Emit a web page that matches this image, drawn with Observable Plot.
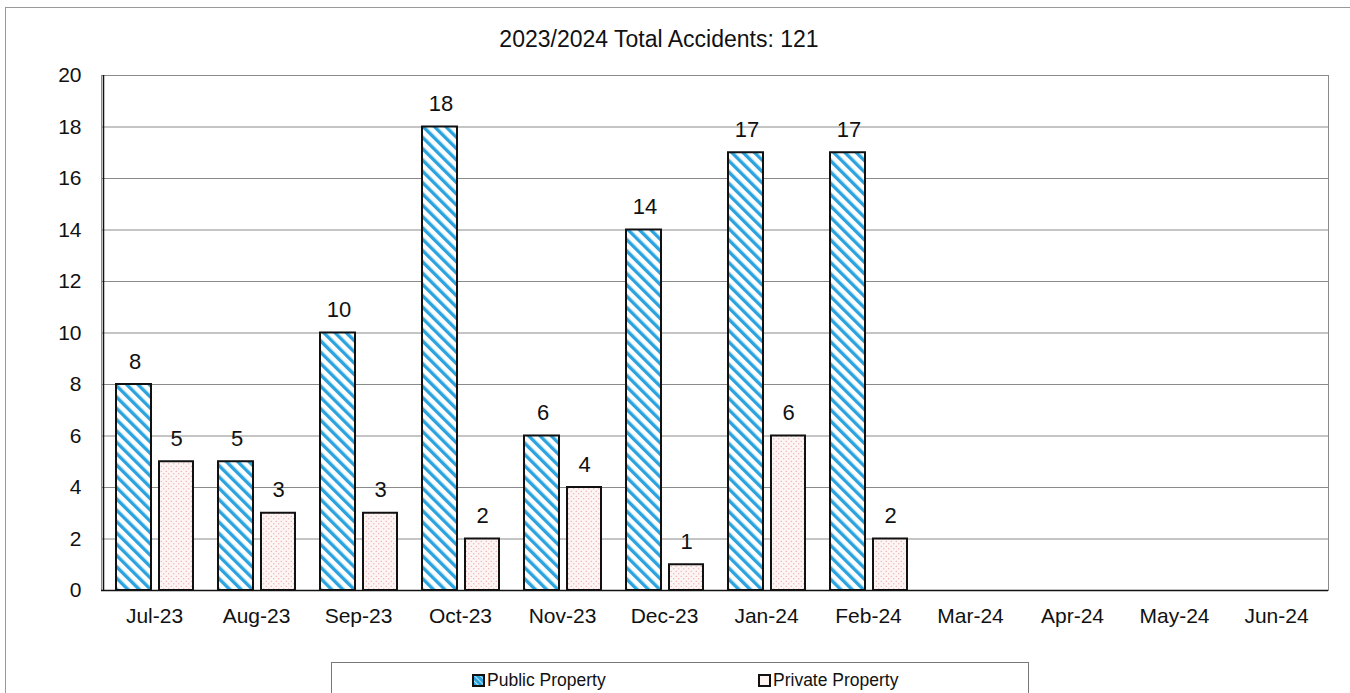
<!DOCTYPE html>
<html>
<head>
<meta charset="utf-8">
<script src="https://cdn.jsdelivr.net/npm/d3@7"></script>
<script src="https://cdn.jsdelivr.net/npm/@observablehq/plot@0.6"></script>
<style>
  html, body { margin: 0; padding: 0; background: #fff; }
  #wrap { position: relative; width: 1350px; height: 693px; overflow: hidden; font-family: "Liberation Sans", Arial, sans-serif; }
  #frame { position: absolute; left: 5px; top: 7px; width: 1360px; height: 700px; border: 1px solid #999; box-sizing: border-box; }
  #title { position: absolute; left: 0; width: 1318px; top: 26px; text-align: center; font-size: 23px; line-height: 26px; color: #111; }
  #legend { position: absolute; left: 331px; top: 662px; width: 698px; height: 60px; border: 1px solid #777; box-sizing: border-box; font-size: 17.5px; color: #111; }
  .item { position: absolute; top: 5px; display: flex; align-items: center; height: 24px; }
  #chart { position: absolute; left: 0; top: 0; }
</style>
</head>
<body>
<div id="wrap">
  <div id="frame"></div>
  <div id="title">2023/2024 Total Accidents: 121</div>
  <div id="chart"></div>
  <div id="legend">
    <div class="item" style="left:140px"><svg width="13" height="13" style="margin-right:2px"><rect x="1" y="1" width="11" height="11" fill="url(#hatchL)" stroke="#111" stroke-width="2"/></svg><span>Public Property</span></div>
    <div class="item" style="left:426px"><svg width="13" height="13" style="margin-right:2px"><rect x="1" y="1" width="11" height="11" fill="#fdf3f3" stroke="#111" stroke-width="2"/></svg><span>Private Property</span></div>
  </div>
</div>
<script>
const months = ["Jul-23","Aug-23","Sep-23","Oct-23","Nov-23","Dec-23","Jan-24","Feb-24","Mar-24","Apr-24","May-24","Jun-24"];
const publicVals = [8, 5, 10, 18, 6, 14, 17, 17, null, null, null, null];
const privateVals = [5, 3, 3, 2, 4, 1, 6, 2, null, null, null, null];
const yTicks = [0, 2, 4, 6, 8, 10, 12, 14, 16, 18, 20];

const pub = months.map((m, i) => ({month: m, value: publicVals[i]})).filter(d => d.value != null);
const priv = months.map((m, i) => ({month: m, value: privateVals[i]})).filter(d => d.value != null);

const chart = Plot.plot({
  width: 1350,
  height: 693,
  marginLeft: 101,
  marginRight: 22,
  marginTop: 75,
  marginBottom: 103,
  style: {fontFamily: "'Liberation Sans', Arial, sans-serif", fontSize: "21px", color: "#111", background: "transparent"},
  x: {type: "band", domain: months, padding: 0, label: null, tickSize: 0, tickPadding: 18},
  y: {domain: [0, 20], ticks: yTicks, label: null, tickSize: 0, tickPadding: 20},
  marks: [
    Plot.ruleY(yTicks, {stroke: "#8a8a8a", strokeWidth: 1}),
    Plot.frame({stroke: "#8a8a8a"}),
    Plot.barY(pub, {x: "month", y: "value", fill: "url(#hatch)", stroke: "#111", strokeWidth: 2, insetLeft: 13, insetRight: 54}),
    Plot.barY(priv, {x: "month", y: "value", fill: "url(#dots)", stroke: "#111", strokeWidth: 2, insetLeft: 56, insetRight: 12}),
    Plot.text(pub, {x: "month", y: "value", text: d => String(d.value), dx: -19.5, dy: -23, fontSize: 22, fill: "#111"}),
    Plot.text(priv, {x: "month", y: "value", text: d => String(d.value), dx: 22, dy: -23, fontSize: 22, fill: "#111"}),
    Plot.ruleX([months[0]], {stroke: "#111", strokeWidth: 1.5, dx: -51}),
    Plot.ruleY([0], {stroke: "#111", strokeWidth: 1.5})
  ]
});

const ns = "http://www.w3.org/2000/svg";
const defs = document.createElementNS(ns, "defs");
defs.innerHTML = `
  <pattern id="hatch" patternUnits="userSpaceOnUse" width="8" height="8" patternTransform="rotate(-45)">
    <rect width="8" height="8" fill="#fff"/>
    <rect width="3.4" height="8" fill="#2aa3de"/>
  </pattern>
  <pattern id="dots" patternUnits="userSpaceOnUse" width="5" height="5">
    <rect width="5" height="5" fill="#fdf4f4"/>
    <circle cx="1.25" cy="1.25" r="0.6" fill="#e58a8a"/>
    <circle cx="3.75" cy="3.75" r="0.6" fill="#e58a8a"/>
  </pattern>`;
chart.insertBefore(defs, chart.firstChild);
document.getElementById("chart").appendChild(chart);

const legSvg = document.querySelector("#legend svg");
const d2 = document.createElementNS(ns, "defs");
d2.innerHTML = `<pattern id="hatchL" patternUnits="userSpaceOnUse" width="4" height="4" patternTransform="rotate(-45)"><rect width="4" height="4" fill="#2aa3de"/><rect width="1" height="4" fill="#bfe6f7"/></pattern>`;
legSvg.insertBefore(d2, legSvg.firstChild);
</script>
</body>
</html>
